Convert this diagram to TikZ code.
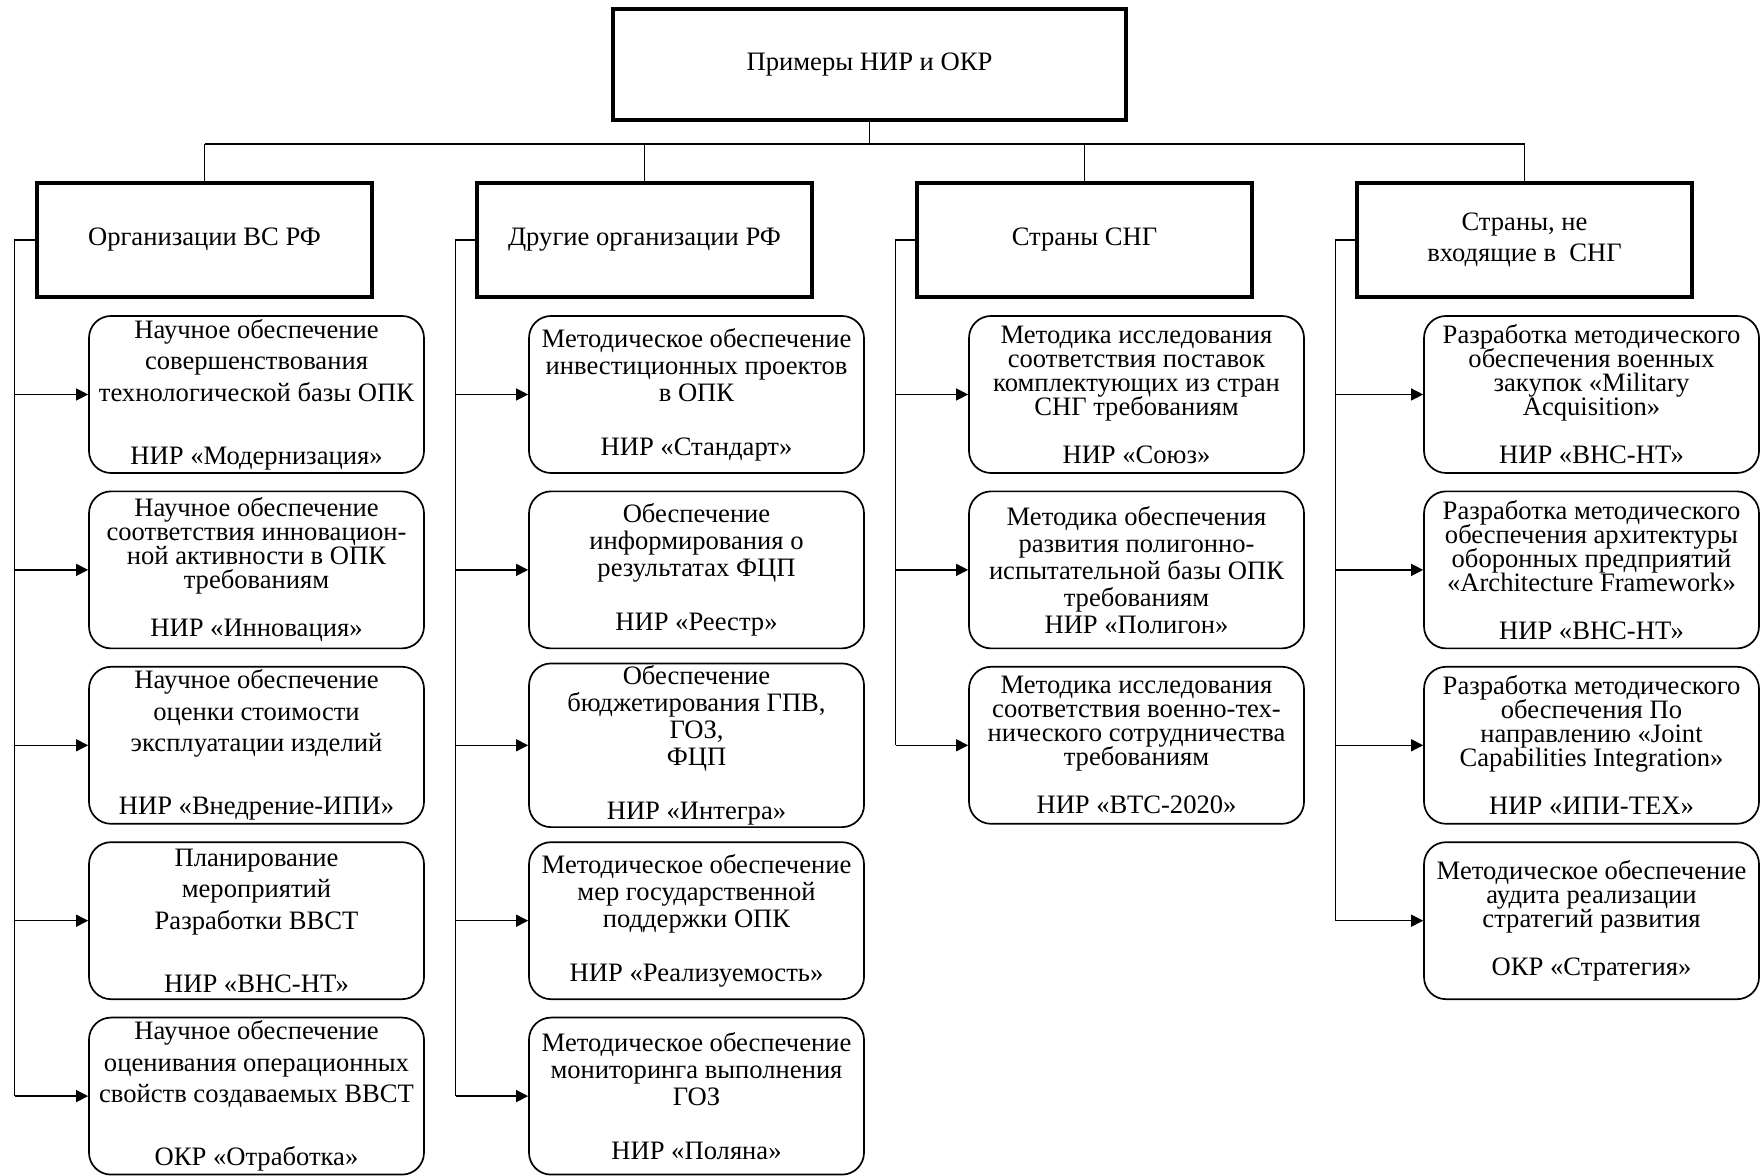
\documentclass[tikz,border=0pt]{standalone}
\usepackage{fontspec}
\setmainfont{Liberation Serif}
\usetikzlibrary{arrows.meta}
\lineskiplimit=-20pt

\begin{document}
\begin{tikzpicture}[x=0.5pt, y=0.5pt, node distance=87.7pt, inner sep=1pt,
    font=\fontsize{13.3}{15.75}\selectfont]
    \tikzstyle{head}=[rectangle, draw=black, line width=2pt, align=center,
        minimum width=256.5pt, minimum height=55.5pt]
    \tikzstyle{group}=[rectangle, draw=black, line width=2pt, align=center,
        minimum width=167.5pt, minimum height=57pt]
    \tikzstyle{leaf}=[rectangle, rounded corners=11pt, draw=black, line width=0.85pt,
        align=center, minimum width=167.5pt, minimum height=78.5pt]
    \tikzstyle{mid}=[font=\fontsize{13.3}{13.5}\selectfont]
    \tikzstyle{tight}=[font=\fontsize{13.3}{12}\selectfont]
    \tikzstyle{link}=[draw=black, line width=0.65pt]
    \tikzstyle{feed}=[-{Triangle[length=6pt, width=6pt]}, draw=black, line width=0.65pt]

    \useasboundingbox (0,0) rectangle (1764,1176);

    \node[head] (top) at (869.5,1111.5) {Примеры НИР и ОКР};

    \node[group] (g1) at (204.5,936) {Организации ВС РФ};
    \node[group] (g2) at (644.5,936) {Другие организации РФ};
    \node[group] (g3) at (1084.5,936) {Страны СНГ};
    \node[group] (g4) at (1524.5,936) {Страны, не\\входящие в\ \ СНГ};

    % column 1
    \node[leaf] (a1) at (256.5,781.5) {Научное обеспечение\\совершенствования\\технологической базы ОПК\\[\baselineskip]НИР «Модернизация»};
    \node[leaf, tight] (a2) [below of=a1] {Научное обеспечение\\соответствия инновацион-\\ной активности в ОПК\\требованиям\\[\baselineskip]НИР «Инновация»};
    \node[leaf] (a3) [below of=a2] {Научное обеспечение\\оценки стоимости\\эксплуатации изделий\\[\baselineskip]НИР «Внедрение-ИПИ»};
    \node[leaf] (a4) [below of=a3] {Планирование\\мероприятий\\Разработки ВВСТ\\[\baselineskip]НИР «ВНС-НТ»};
    \node[leaf] (a5) [below of=a4] {Научное обеспечение\\оценивания операционных\\свойств создаваемых ВВСТ\\[\baselineskip]ОКР «Отработка»};

    % column 2
    \node[leaf, mid] (b1) at (696.5,781.5) {Методическое обеспечение\\инвестиционных проектов\\в ОПК\\[\baselineskip]НИР «Стандарт»};
    \node[leaf, mid] (b2) [below of=b1] {Обеспечение\\информирования о\\результатах ФЦП\\[\baselineskip]НИР «Реестр»};
    \node[leaf, mid] (b3) [below of=b2] {Обеспечение\\бюджетирования ГПВ,\\ГОЗ,\\ФЦП\\[\baselineskip]НИР «Интегра»};
    \node[leaf, mid] (b4) [below of=b3] {Методическое обеспечение\\мер государственной\\поддержки ОПК\\[\baselineskip]НИР «Реализуемость»};
    \node[leaf, mid] (b5) [below of=b4] {Методическое обеспечение\\мониторинга выполнения\\ГОЗ\\[\baselineskip]НИР «Поляна»};

    % column 3
    \node[leaf, tight] (c1) at (1136.5,781.5) {Методика исследования\\соответствия поставок\\комплектующих из стран\\СНГ требованиям\\[\baselineskip]НИР «Союз»};
    \node[leaf, mid] (c2) [below of=c1] {Методика обеспечения\\развития полигонно-\\испытательной базы ОПК\\требованиям\\НИР «Полигон»};
    \node[leaf, tight] (c3) [below of=c2] {Методика исследования\\соответствия военно-тех-\\нического сотрудничества\\требованиям\\[\baselineskip]НИР «ВТС-2020»};

    % column 4
    \node[leaf, tight] (d1) at (1591.5,781.5) {Разработка методического\\обеспечения военных\\закупок «Military\\Acquisition»\\[\baselineskip]НИР «ВНС-НТ»};
    \node[leaf, tight] (d2) [below of=d1] {Разработка методического\\обеспечения архитектуры\\оборонных предприятий\\«Architecture Framework»\\[\baselineskip]НИР «ВНС-НТ»};
    \node[leaf, tight] (d3) [below of=d2] {Разработка методического\\обеспечения По\\направлению «Joint\\Capabilities Integration»\\[\baselineskip]НИР «ИПИ-ТЕХ»};
    \node[leaf, tight] (d4) [below of=d3] {Методическое обеспечение\\аудита реализации\\стратегий развития\\[\baselineskip]ОКР «Стратегия»};

    % bus
    \coordinate (bus) at (869.5,1032);
    \draw[link] (top.south) -- (bus);
    \draw[link] (bus -| g1.north) -- (bus -| g4.north);
    \foreach \g in {g1,g2,g3,g4}
        \draw[link] (bus -| \g.north) -- (\g.north);

    % rails
    \coordinate (r1) at (14.6,936);
    \coordinate (r2) at (455.6,936);
    \coordinate (r3) at (895.5,936);
    \coordinate (r4) at (1335.4,936);

    \draw[link] (g1.west) -- (r1) -- (r1 |- a5.west);
    \draw[link] (g2.west) -- (r2) -- (r2 |- b5.west);
    \draw[link] (g3.west) -- (r3) -- (r3 |- c3.west);
    \draw[link] (g4.west) -- (r4) -- (r4 |- d4.west);

    \foreach \n in {a1,a2,a3,a4,a5}
        \draw[feed] (r1 |- \n.west) -- (\n.west);
    \foreach \n in {b1,b2,b3,b4,b5}
        \draw[feed] (r2 |- \n.west) -- (\n.west);
    \foreach \n in {c1,c2,c3}
        \draw[feed] (r3 |- \n.west) -- (\n.west);
    \foreach \n in {d1,d2,d3,d4}
        \draw[feed] (r4 |- \n.west) -- (\n.west);
\end{tikzpicture}
\end{document}
